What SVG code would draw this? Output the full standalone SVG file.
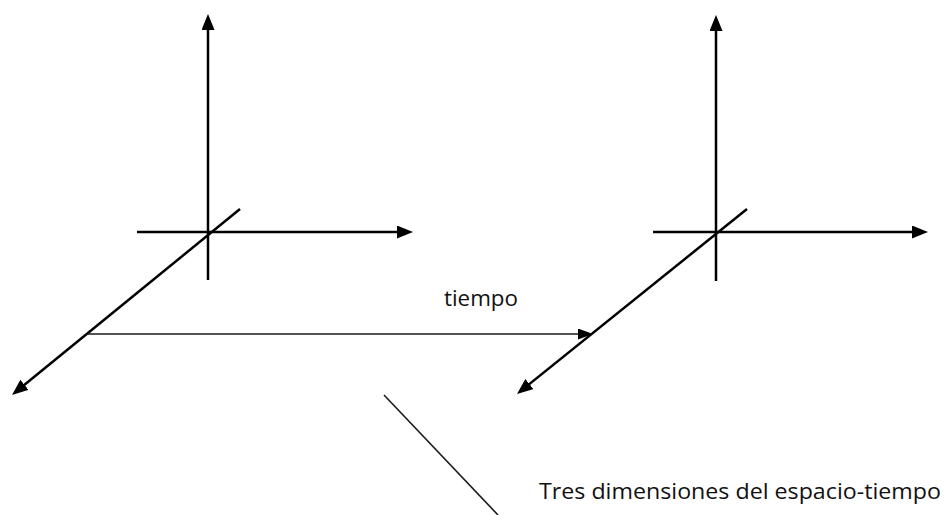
<svg xmlns="http://www.w3.org/2000/svg" width="952" height="515" viewBox="0 0 952 515">
  <style>
    .axis { stroke: #000; stroke-width: 2.5; fill: none; }
    .thin { stroke: #1a1a1a; stroke-width: 1.6; fill: none; }
    .label { font-family: "Open Sans", "Noto Sans", "Liberation Sans", sans-serif; font-size: 22px; fill: #111; }
  </style>
  <defs>
    <marker id="arrow" markerUnits="userSpaceOnUse" markerWidth="16" markerHeight="13" refX="11" refY="6.5" orient="auto">
      <path d="M0,0 L16,6.5 L0,13 z" fill="#000"/>
    </marker>
    <marker id="arrowSmall" markerUnits="userSpaceOnUse" markerWidth="15" markerHeight="11" refX="10" refY="5.5" orient="auto">
      <path d="M0,0 L15,5.5 L0,11 z" fill="#000"/>
    </marker>
  </defs>
  <rect width="952" height="515" fill="#fff"/>

  <g id="frame-left">
    <line class="axis" x1="208" y1="280" x2="208" y2="19" marker-end="url(#arrow)"/>
    <line class="axis" x1="137" y1="232" x2="408" y2="232" marker-end="url(#arrow)"/>
    <line class="axis" x1="240" y1="209" x2="15.9" y2="391.8" marker-end="url(#arrow)"/>
  </g>

  <g id="frame-right">
    <line class="axis" x1="716" y1="281" x2="716" y2="20" marker-end="url(#arrow)"/>
    <line class="axis" x1="653" y1="232" x2="923" y2="232" marker-end="url(#arrow)"/>
    <line class="axis" x1="747" y1="209" x2="520.9" y2="390.9" marker-end="url(#arrow)"/>
  </g>

  <g id="connectors">
    <line class="thin" x1="88" y1="334" x2="588" y2="334" marker-end="url(#arrowSmall)"/>
    <line class="thin" x1="384" y1="395" x2="498" y2="515"/>
  </g>

  <g id="label-tiempo">
    <text class="label" x="444" y="306" textLength="74" lengthAdjust="spacingAndGlyphs">tiempo</text>
  </g>
  <g id="label-dimensiones">
    <text class="label" x="539" y="499" textLength="402" lengthAdjust="spacingAndGlyphs">Tres dimensiones del espacio-tiempo</text>
  </g>
</svg>
